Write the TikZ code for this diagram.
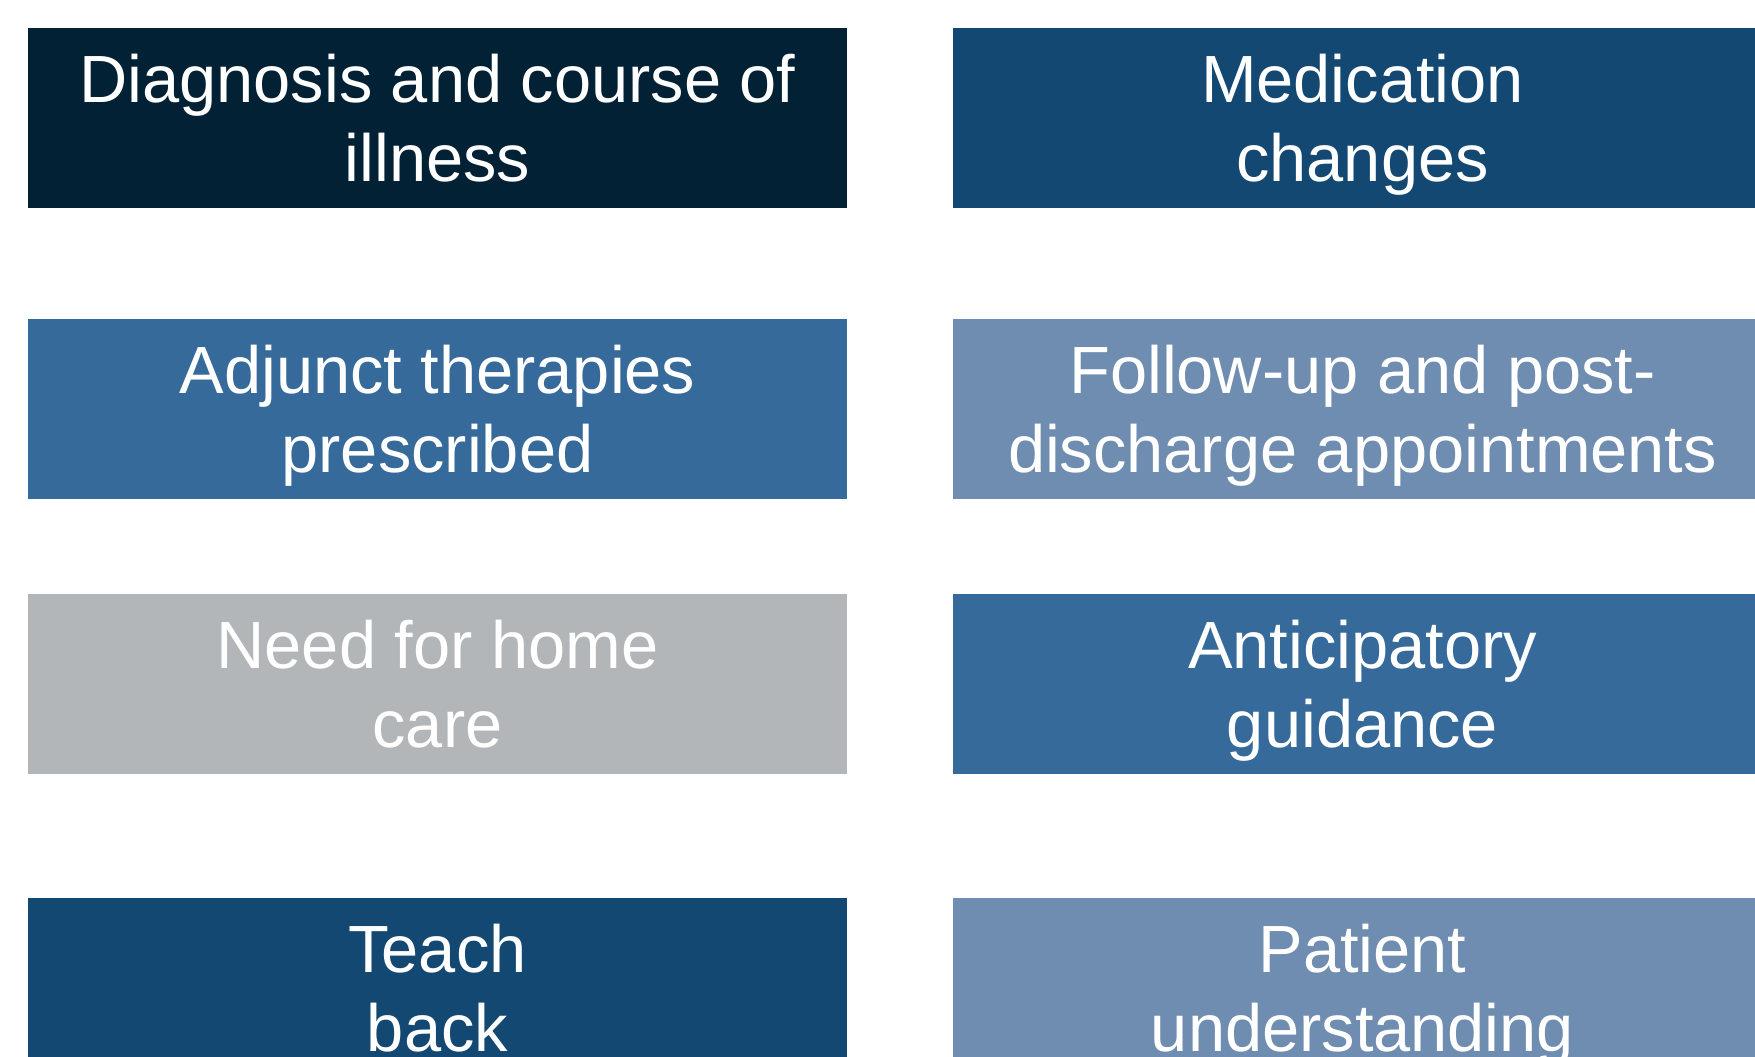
\documentclass[tikz,border=0pt]{standalone}
\usepackage{fontspec}
\setmainfont{Liberation Sans}
\usepackage{tikz}
\usetikzlibrary{positioning}

\definecolor{darknavy}{HTML}{022135}
\definecolor{navy}{HTML}{134873}
\definecolor{midblue}{HTML}{366A9B}
\definecolor{steel}{HTML}{6F8DB0}
\definecolor{lightgrey}{HTML}{B3B6B9}

\tikzstyle{topic} = [rectangle, minimum width=8.19cm, minimum height=1.8cm, inner sep=0pt, outer sep=0pt, align=center, text depth=0pt, text=white, font=\fontsize{19}{22.6}\selectfont]

\begin{document}
\begin{tikzpicture}[node distance=1.06cm]
    \useasboundingbox (0,0) rectangle (17.55,-10.57);
    \clip (0,0) rectangle (17.55,-10.57);

    % left column
    \node (diag) [topic, fill=darknavy] at (4.375,-1.18) {Diagnosis and course of\\illness};
    \node (adj) [topic, fill=midblue, below=1.11cm of diag] {Adjunct therapies\\prescribed};
    \node (home) [topic, fill=lightgrey, below=0.95cm of adj] {Need for home\\care};
    \node (teach) [topic, fill=navy, below=1.24cm of home] {Teach\\back};

    % right column
    \node (med) [topic, fill=navy, right=of diag] {Medication\\changes};
    \node (follow) [topic, fill=steel, right=of adj] {Follow-up and post-\\discharge appointments};
    \node (antic) [topic, fill=midblue, right=of home] {Anticipatory\\guidance};
    \node (patient) [topic, fill=steel, right=of teach] {Patient\\understanding};

\end{tikzpicture}
\end{document}
